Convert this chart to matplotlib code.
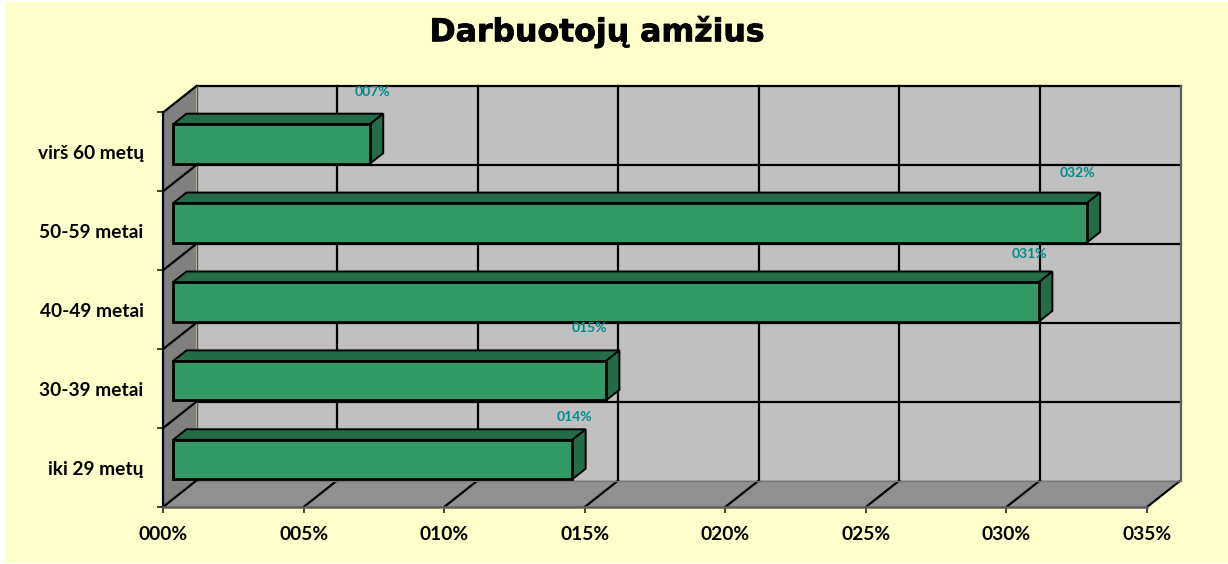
import matplotlib
matplotlib.use("Agg")
import matplotlib.pyplot as plt
import matplotlib.patheffects as pe
from matplotlib.patches import Polygon, Rectangle
from matplotlib.lines import Line2D

title = "Darbuotojų amžius"
categories = ["iki 29 metų", "30-39 metai", "40-49 metai", "50-59 metai", "virš 60 metų"]
values = [14.2, 15.4, 30.8, 32.5, 7.0]
value_labels = ["014%", "015%", "031%", "032%", "007%"]
x_ticks = [0, 5, 10, 15, 20, 25, 30, 35]
x_tick_labels = ["000%", "005%", "010%", "015%", "020%", "025%", "030%", "035%"]
label_offsets_px = [(2, 23), (-17, 33), (-10, 28), (-9, 30), (3, 32)]

W, H = 1228, 564
CREAM = "#FFFFCC"; WALL = "#C0C0C0"; SIDE = "#808080"; FLOOR = "#909090"
BAR = "#339966"; BAR_DARK = "#246B48"; TEAL = "#008B8B"; EDGE = "#5F5F5F"
BODY = "Lato"

fig = plt.figure(figsize=(W / 100, H / 100), dpi=100, facecolor="white")
fig.patches.append(Rectangle((5 / W, 1 / H), (W - 5) / W, (H - 3) / H, zorder=-5,
                             transform=fig.transFigure, facecolor=CREAM, edgecolor="none"))
fig.text(597 / W, 1 - 32 / H, title, ha="center", va="center", fontsize=22.7,
         fontweight="bold", family="DejaVu Sans", color="black",
         path_effects=[pe.withStroke(linewidth=0.6, foreground="black")])

L, R, B, T = 163, 1147, 507, 112.5
ax = fig.add_axes([L / W, 1 - B / H, (R - L) / W, (B - T) / H])
ax.patch.set_visible(False)
for s in ax.spines.values():
    s.set_visible(False)
n = len(categories)
ax.set_xlim(0, 35)
ax.set_ylim(0, n)

DX = 33.5 / ((R - L) / 35)
DY = 26.5 / ((B - T) / n)


def P(x, y, d):
    return (x + d * DX, y + d * DY)


def poly(pts, fc, ec="none", lw=0, z=1):
    ax.add_patch(Polygon(pts, closed=True, facecolor=fc, edgecolor=ec, linewidth=lw,
                         zorder=z, clip_on=False, joinstyle="miter"))


def seg(a, b, color="black", lw=1.6, z=2):
    ax.add_line(Line2D([a[0], b[0]], [a[1], b[1]], color=color, linewidth=lw, zorder=z,
                       clip_on=False, solid_capstyle="projecting"))


xmax = x_ticks[-1]
# walls and floor
poly([P(0, 0, 1), P(xmax, 0, 1), P(xmax, n, 1), P(0, n, 1)], WALL)
poly([P(0, 0, 0), P(0, 0, 1), P(0, n, 1), P(0, n, 0)], SIDE)
poly([P(0, 0, 0), P(xmax, 0, 0), P(xmax, 0, 1), P(0, 0, 1)], FLOOR)

# gridlines
for t in x_ticks[1:-1]:
    seg(P(t, 0, 1), P(t, n, 1))
    seg(P(t, 0, 0), P(t, 0, 1))
for i in range(1, n + 1):
    seg(P(0, i, 1), P(xmax, i, 1))
    seg(P(0, i, 0), P(0, i, 1))
seg(P(0, 0, 0), P(0, 0, 1))
seg(P(xmax, 0, 0), P(xmax, 0, 1))
seg(P(xmax, 0, 1), P(xmax, n, 1), color=EDGE)
seg(P(0, 0, 1), P(xmax, 0, 1), color="#777777", lw=1.0)
seg(P(0, 0, 1), P(0, n, 1), color="#555555", lw=1.0)
seg(P(0, 0, 0), P(0, n, 0))
seg(P(0, 0, 0), P(xmax, 0, 0), color=EDGE, lw=1.8)

# bars
d0, d1 = 0.3, 0.7
for i, v in enumerate(values):
    y0, y1 = i + 0.25, i + 0.75
    poly([P(0, y1, d0), P(v, y1, d0), P(v, y1, d1), P(0, y1, d1)], BAR_DARK, "black", 1.4, 3)
    poly([P(v, y0, d0), P(v, y1, d0), P(v, y1, d1), P(v, y0, d1)], BAR_DARK, "black", 1.4, 3)
    poly([P(0, y0, d0), P(v, y0, d0), P(v, y1, d0), P(0, y1, d0)], BAR, "black", 2.0, 4)
    ox, oy = label_offsets_px[i]
    ax.annotate(value_labels[i], xy=P(v, y1, d0), xytext=(ox * 0.72, oy * 0.72),
                textcoords="offset points", ha="center", va="center", fontsize=10,
                fontweight="bold", family=BODY, color=TEAL, zorder=6, annotation_clip=False)

# axes ticks
ax.set_xticks(x_ticks)
ax.set_xticklabels(x_tick_labels, fontsize=13.8, fontweight="bold", family=BODY)
ax.tick_params(axis="x", length=4.5, width=1.2, color="#222222", pad=9.5)
ax.set_yticks(range(n + 1))
ax.set_yticklabels([])
ax.set_yticks([i + 0.5 for i in range(n)], minor=True)
ax.set_yticklabels(categories, minor=True, fontsize=13.8, fontweight="bold", family=BODY)
ax.tick_params(axis="y", which="major", length=4.5, width=1.2, color="#222222")
ax.tick_params(axis="y", which="minor", length=0, pad=14)

fig.savefig("out.png", dpi=100, facecolor=fig.get_facecolor())
